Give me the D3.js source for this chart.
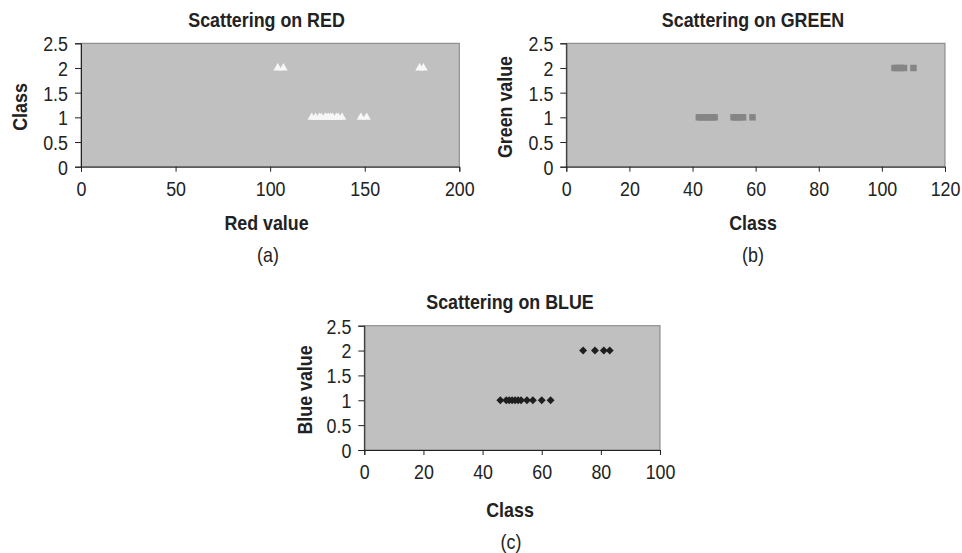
<!DOCTYPE html>
<html>
<head>
<meta charset="utf-8">
<script src="https://cdn.jsdelivr.net/npm/d3@7"></script>
<style>
  html, body { margin: 0; padding: 0; background: #fff; }
  svg { display: block; }
  text { font-family: "Liberation Sans", Arial, sans-serif; fill: #222; }
</style>
</head>
<body>
<svg id="chart" width="962" height="553"></svg>
<script>
// ---- data ----
const yTicks = [0, 0.5, 1, 1.5, 2, 2.5];

const redTicks = [0, 50, 100, 150, 200];
const redValues  = [104, 107, 179, 181, 122, 124, 126, 127, 129, 130, 131, 132, 133, 135, 136, 138, 148, 151];
const redClasses = [2, 2, 2, 2, 1, 1, 1, 1, 1, 1, 1, 1, 1, 1, 1, 1, 1, 1];

const greenTicks = [0, 20, 40, 60, 80, 100, 120];
const greenValues  = [42, 43, 44, 45, 46, 47, 53, 54, 55, 56, 59, 104, 105, 106, 107, 110];
const greenClasses = [1, 1, 1, 1, 1, 1, 1, 1, 1, 1, 1, 2, 2, 2, 2, 2];

const blueTicks = [0, 20, 40, 60, 80, 100];
const blueValues  = [46, 48, 49, 50, 51, 52, 53, 55, 57, 60, 63, 74, 78, 81, 83];
const blueClasses = [1, 1, 1, 1, 1, 1, 1, 1, 1, 1, 1, 2, 2, 2, 2];

const titles   = ["Scattering on RED", "Scattering on GREEN", "Scattering on BLUE"];
const xLabels  = ["Red value", "Class", "Class"];
const yLabels  = ["Class", "Green value", "Blue value"];
const captions = ["(a)", "(b)", "(c)"];

// ---- layout ----
const svg = d3.select("#chart");
const FS = 21;      // font size
const SX = 0.85;    // horizontal condensing of the type

const panels = [
  { xs: redValues, ys: redClasses, xTicks: redTicks, xMax: 200,
    box: [81, 459.3, 43.3, 166.7], titleX: 266.5, titleY: 27, xlabY: 230, capX: 268, capY: 262, ylabX: 27, ylabY: 107,
    symbol: d3.symbolTriangle, size: 32, fill: "#f7f7f7" },
  { xs: greenValues, ys: greenClasses, xTicks: greenTicks, xMax: 120,
    box: [566.3, 945, 43.3, 166.7], titleX: 753, titleY: 27, xlabY: 229.5, capX: 753, capY: 262, ylabX: 511.5, ylabY: 107,
    symbol: d3.symbolSquare, size: 42, fill: "#858585" },
  { xs: blueValues, ys: blueClasses, xTicks: blueTicks, xMax: 100,
    box: [364.3, 660, 325.7, 450], titleX: 510, titleY: 309.3, xlabY: 517.3, capX: 511, capY: 549, ylabX: 311.5, ylabY: 390,
    symbol: d3.symbolDiamond2, size: 40, fill: "#1e1e1e" }
];

function label(g, x, y, rot, txt, bold) {
  g.append("text")
    .attr("transform", `translate(${x},${y})${rot ? " rotate(-90)" : ""} scale(${SX},1)`)
    .attr("text-anchor", "middle").attr("font-size", FS)
    .attr("font-weight", bold ? "bold" : "normal")
    .text(txt);
}

panels.forEach((p, i) => {
  const [x0, x1, y0, y1] = p.box;
  const x = d3.scaleLinear().domain([0, p.xMax]).range([x0, x1]);
  const y = d3.scaleLinear().domain([0, 2.5]).range([y1, y0]);
  const g = svg.append("g");

  // plot area
  g.append("rect")
    .attr("x", x0).attr("y", y0)
    .attr("width", x1 - x0).attr("height", y1 - y0)
    .attr("fill", "#c0c0c0")
    .attr("stroke", "#808080").attr("stroke-width", 1);

  // markers
  g.append("g").selectAll("path")
    .data(p.xs.map((v, k) => [v, p.ys[k]]))
    .join("path")
    .attr("transform", d => `translate(${x(d[0])},${y(d[1])})`)
    .attr("d", d3.symbol().type(p.symbol).size(p.size))
    .attr("fill", p.fill);

  // axes
  const fmt = d => d3.format("")(d);
  const xAxis = g.append("g")
    .attr("transform", `translate(0,${y1})`)
    .call(d3.axisBottom(x).tickValues(p.xTicks).tickFormat(fmt).tickSizeOuter(0).tickSize(5).tickPadding(9));
  const yAxis = g.append("g")
    .attr("transform", `translate(${x0},0)`)
    .call(d3.axisLeft(y).tickValues(yTicks).tickFormat(fmt).tickSizeOuter(0).tickSize(6).tickPadding(7));
  [xAxis, yAxis].forEach(a => {
    a.select(".domain").attr("stroke", "#222");
    a.selectAll(".tick line").attr("stroke", "#222");
    a.selectAll(".tick text").attr("font-size", FS).attr("fill", "#222")
      .attr("font-family", '"Liberation Sans", Arial, sans-serif')
      .attr("transform", `scale(${SX},1)`);
  });
  yAxis.selectAll(".tick text").attr("x", -13 / SX).attr("dy", "0.35em");

  label(g, p.titleX, p.titleY, false, titles[i], true);
  label(g, p.titleX, p.xlabY, false, xLabels[i], true);
  label(g, p.capX, p.capY, false, captions[i], false);
  label(g, p.ylabX, p.ylabY, true, yLabels[i], true);
});
</script>
</body>
</html>
